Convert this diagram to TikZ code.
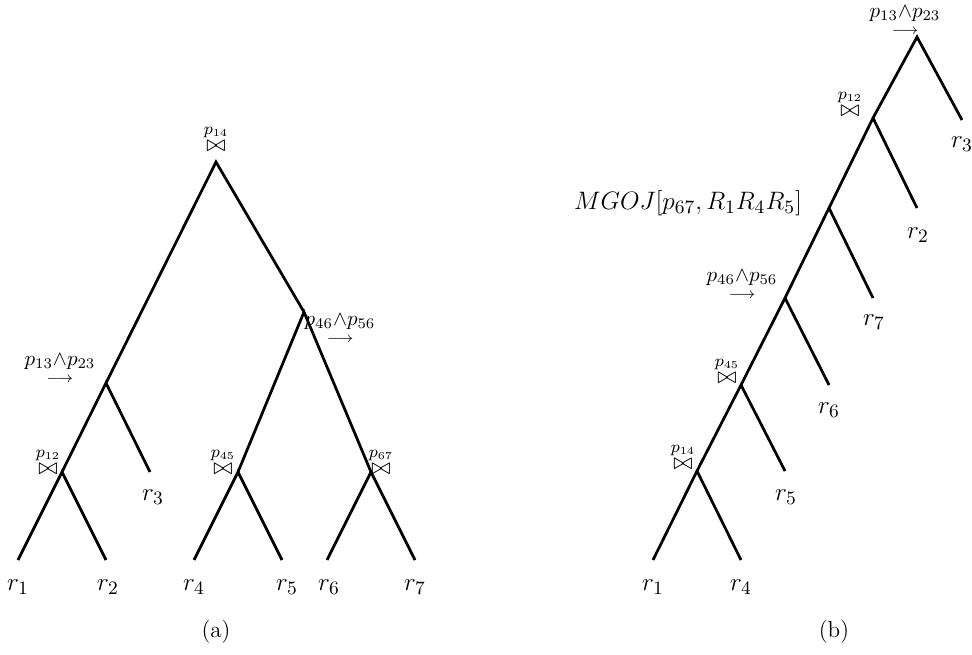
\documentclass[tikz,border=0pt]{standalone}
\usepackage{amsmath}
\begin{document}
\begin{tikzpicture}[x=0.476pt, y=-0.476pt, line width=1.3pt,
    every node/.style={font=\fontsize{13}{15}\selectfont},
    oplabel/.style={font=\fontsize{10}{12}\selectfont, inner sep=0pt},
    joinlabel/.style={font=\fontsize{11}{13}\selectfont, inner sep=0pt},
    caption/.style={font=\fontsize{11}{13}\selectfont}]
  \useasboundingbox (0,0) rectangle (972,655);
  % tree (a)
  \coordinate (aroot) at (216,162);
  \coordinate (asel) at (106,383);
  \coordinate (apsel) at (304,312);
  \coordinate (aj12) at (62,472);
  \coordinate (aj45) at (238,472);
  \coordinate (aj67) at (371,472);
  \coordinate (ar1) at (18,560);
  \coordinate (ar2) at (106,560);
  \coordinate (ar3) at (150,472);
  \coordinate (ar4) at (194,560);
  \coordinate (ar5) at (282,560);
  \coordinate (ar6) at (327,560);
  \coordinate (ar7) at (415,560);
  \draw (asel) -- (aroot) -- (apsel);
  \draw (aj12) -- (asel) -- (ar3);
  \draw (ar1) -- (aj12) -- (ar2);
  \draw (aj45) -- (apsel) -- (aj67);
  \draw (ar4) -- (aj45) -- (ar5);
  \draw (ar6) -- (aj67) -- (ar7);
  \node[joinlabel] (laroot) at (216,138) {\(\overset{p_{14}}{\bowtie}\)};
  \node[oplabel] (lasel) at (60,369) {\(\underset{\longrightarrow}{p_{13}{\wedge}p_{23}}\)};
  \node[oplabel] (lapsel) at (340,329) {\(\underset{\longrightarrow}{p_{46}{\wedge}p_{56}}\)};
  \node[joinlabel] (laj12) at (48,461) {\(\overset{p_{12}}{\bowtie}\)};
  \node[joinlabel] (laj45) at (223,461) {\(\overset{p_{45}}{\bowtie}\)};
  \node[joinlabel] (laj67) at (381,461) {\(\overset{p_{67}}{\bowtie}\)};
  \node (tr1) at (18,587) {\(r_1\)};
  \node (tr2) at (108,587) {\(r_2\)};
  \node (tr3) at (153,497) {\(r_3\)};
  \node (tr4) at (194,587) {\(r_4\)};
  \node (tr5) at (287,587) {\(r_5\)};
  \node (tr6) at (329,587) {\(r_6\)};
  \node (tr7) at (415,587) {\(r_7\)};
  \node[caption] (capa) at (216,632) {(a)};
  % tree (b)
  \coordinate (broot) at (917,37);
  \coordinate (bj12) at (873,118);
  \coordinate (bmg) at (829,208);
  \coordinate (bsel) at (785,298);
  \coordinate (bj45) at (741,385);
  \coordinate (bj14) at (697,471);
  \coordinate (br3) at (962,120);
  \coordinate (br2) at (917,208);
  \coordinate (br7) at (873,298);
  \coordinate (br6) at (829,385);
  \coordinate (br5) at (785,471);
  \coordinate (br1) at (653,560);
  \coordinate (br4) at (741,560);
  \draw (br1) -- (bj14) -- (bj45) -- (bsel) -- (bmg) -- (bj12) -- (broot) -- (br3);
  \draw (bj12) -- (br2);
  \draw (bmg) -- (br7);
  \draw (bsel) -- (br6);
  \draw (bj45) -- (br5);
  \draw (bj14) -- (br4);
  \node[oplabel] (lbroot) at (905,21) {\(\underset{\longrightarrow}{p_{13}{\wedge}p_{23}}\)};
  \node[joinlabel] (lbj12) at (850,103) {\(\overset{p_{12}}{\bowtie}\)};
  \node (lbmg) at (688,203) {\(MGOJ[p_{67},R_1R_4R_5]\)};
  \node[oplabel] (lbsel) at (742,285) {\(\underset{\longrightarrow}{p_{46}{\wedge}p_{56}}\)};
  \node[joinlabel] (lbj45) at (727,370) {\(\overset{p_{45}}{\bowtie}\)};
  \node[joinlabel] (lbj14) at (683,456) {\(\overset{p_{14}}{\bowtie}\)};
  \node (tbr3) at (962,144) {\(r_3\)};
  \node (tbr2) at (918,235) {\(r_2\)};
  \node (tbr7) at (874,322) {\(r_7\)};
  \node (tbr6) at (829,410) {\(r_6\)};
  \node (tbr5) at (786,497) {\(r_5\)};
  \node (tbr1) at (653,587) {\(r_1\)};
  \node (tbr4) at (741,587) {\(r_4\)};
  \node[caption] (capb) at (834,632) {(b)};
\end{tikzpicture}
\end{document}
